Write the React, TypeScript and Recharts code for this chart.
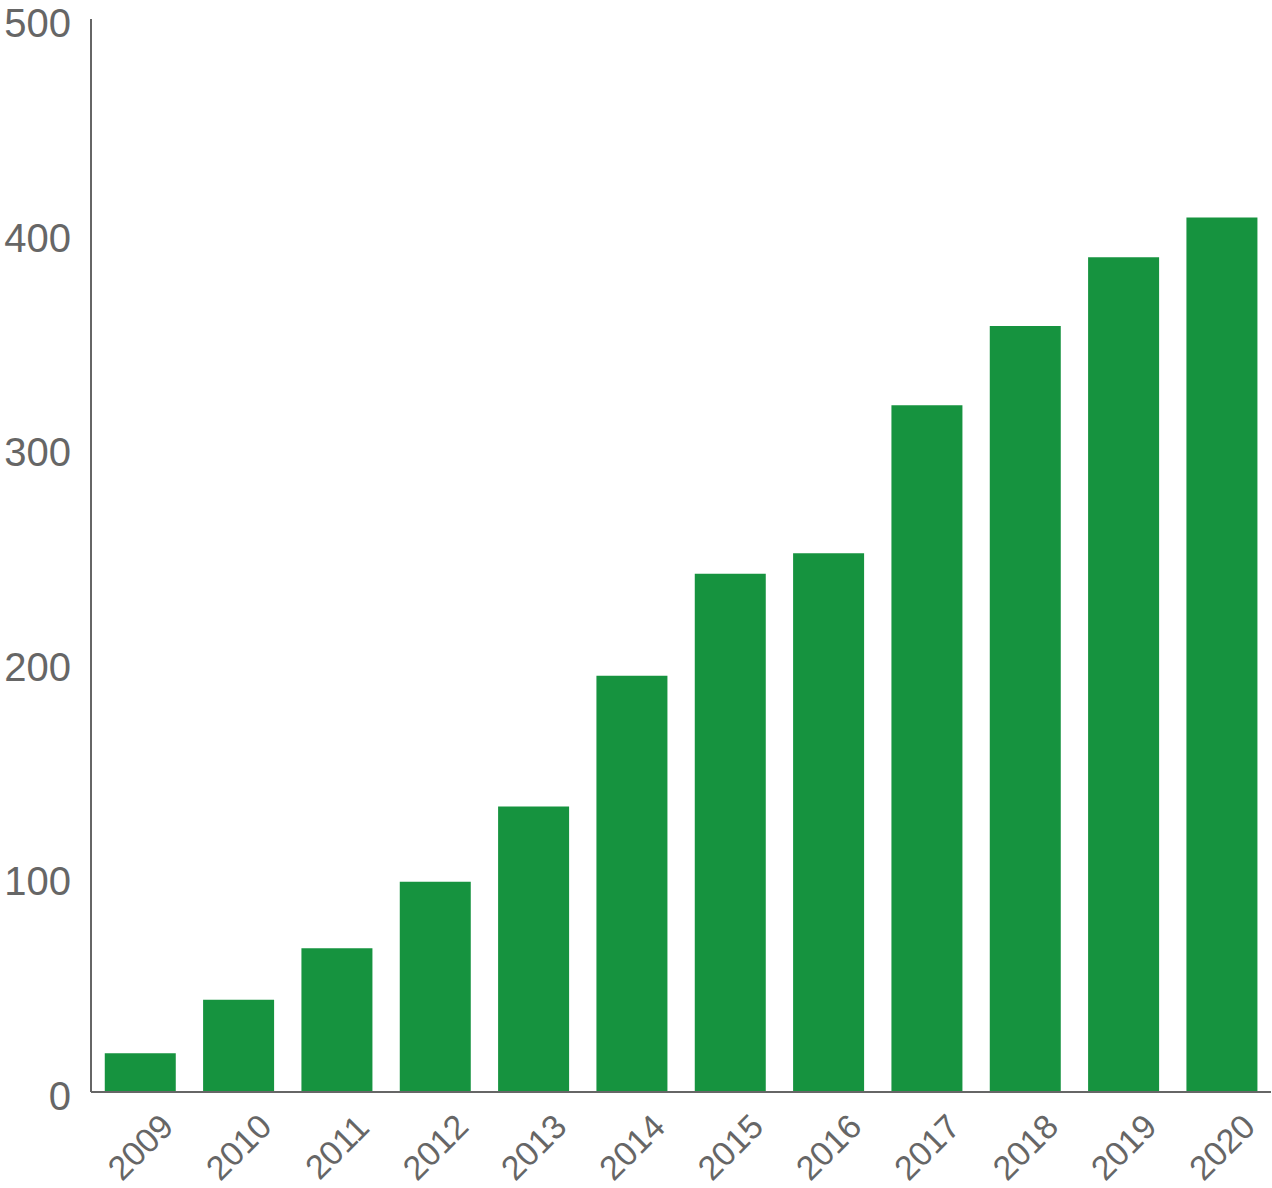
import React from "react";
import { BarChart, Bar, XAxis, YAxis } from "recharts";

const years = ["2009", "2010", "2011", "2012", "2013", "2014", "2015", "2016", "2017", "2018", "2019", "2020"];
const values = [18, 43, 67, 98, 133, 194, 241.5, 251, 320, 357, 389, 407.5];
const yTicks = [0, 100, 200, 300, 400, 500];

const data = years.map((y, i) => ({ year: y, value: values[i] }));

const FONT = "'Liberation Sans', Arial, sans-serif";

const XTick = (props: any) => {
  const { x, y, payload } = props;
  const cy = y + 47;
  return (
    <text
      x={x}
      y={cy}
      textAnchor="middle"
      dominantBaseline="central"
      transform={`rotate(-45, ${x}, ${cy})`}
      fill="#666"
      fontSize={34}
      fontFamily={FONT}
    >
      {payload.value}
    </text>
  );
};

const YTick = (props: any) => {
  const { x, y, payload } = props;
  return (
    <text
      x={x - 12}
      y={y + 4}
      textAnchor="end"
      dominantBaseline="central"
      fill="#666"
      fontSize={40}
      fontFamily={FONT}
    >
      {payload.value}
    </text>
  );
};

export default function App() {
  return (
    <div style={{ position: "absolute", left: 0, top: 0 }}>
      <BarChart
        width={1272}
        height={1188}
        data={data}
        margin={{ top: 19, right: 1, left: 0, bottom: 0 }}
        barCategoryGap="14%"
      >
        <XAxis
          dataKey="year"
          height={96}
          axisLine={{ stroke: "#666", strokeWidth: 2 }}
          tickLine={false}
          tick={<XTick />}
          interval={0}
        />
        <YAxis
          width={91}
          domain={[0, 500]}
          ticks={yTicks}
          axisLine={{ stroke: "#666", strokeWidth: 2 }}
          tickLine={false}
          tick={<YTick />}
          interval={0}
        />
        <Bar dataKey="value" fill="#16933f" isAnimationActive={false} />
      </BarChart>
    </div>
  );
}
